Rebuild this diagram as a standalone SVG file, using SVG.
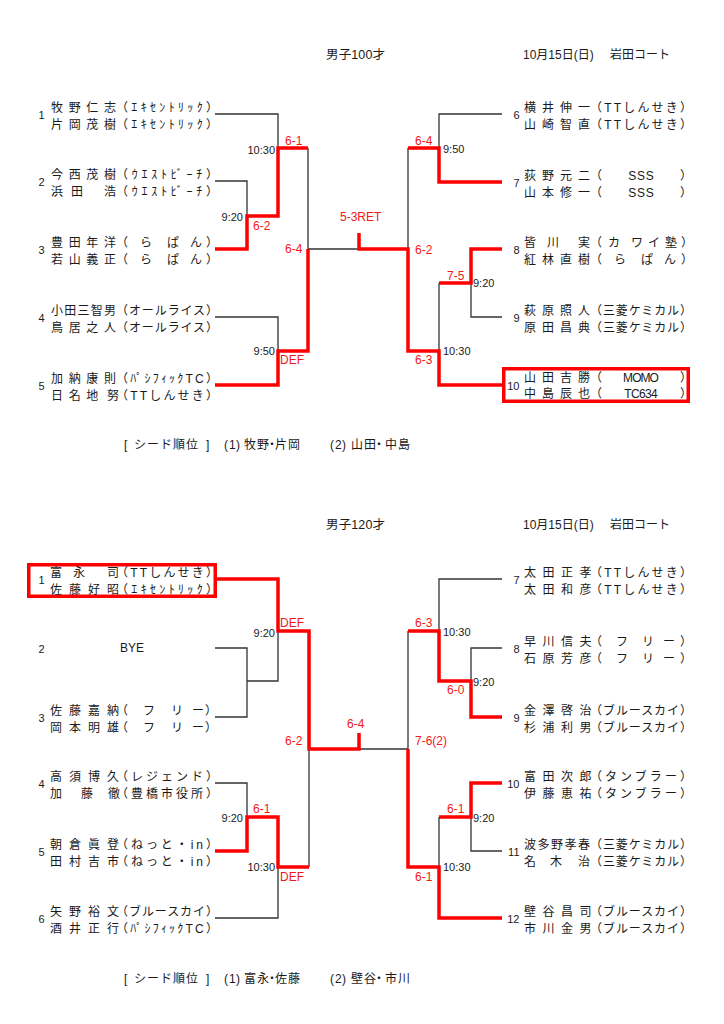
<svg xmlns="http://www.w3.org/2000/svg" width="724" height="1024" viewBox="0 0 724 1024">
<style>
text{font-family:"Liberation Sans","Noto Sans CJK JP",sans-serif;fill:#1a1a1a}
.t{font-size:12px}
.n{font-size:11px;text-anchor:end}
.tl{font-size:11px;text-anchor:end}
.tr{font-size:11px}
.s{font-size:12px;fill:#f01818}
.h{font-size:12.5px}
.k{stroke:#333;stroke-width:1.3;fill:none}
.r{stroke:#f00;stroke-width:3.5;fill:none}
</style>
<rect width="724" height="1024" fill="#fff"/>

<g id="header1">
<text class="h" x="326" y="59" textLength="59" lengthAdjust="spacing">男子100才</text>
<text class="t" y="59"><tspan x="523">10月15日(日)</tspan> <tspan x="610">岩田コート</tspan></text>
</g>

<g id="connectors">
<path class="k" d="M215 114H278V148"/>
<path class="k" d="M215 181H247V216"/>
<path class="k" d="M308 148V249H359"/>
<path class="k" d="M215 317H278V351"/>
<path class="k" d="M502 114H439V148"/>
<path class="k" d="M408 148V249"/>
<path class="k" d="M439 283V351"/>
<path class="k" d="M502 317H471V283"/>
<path class="r" d="M215 249H247V216H278V148H308"/>
<path class="r" d="M215 385H278V351H308V249"/>
<path class="r" d="M359 233V249H408V351H439V385H502"/>
<path class="r" d="M408 148H439V182H502"/>
<path class="r" d="M502 249H471V283H439"/>
<rect class="r" x="503.75" y="368.75" width="184.5" height="32.5"/>

<path class="k" d="M215 648H247V717H215"/>
<path class="k" d="M247 681H278V631"/>
<path class="k" d="M215 783H247V817"/>
<path class="k" d="M309 749V867"/>
<path class="k" d="M215 918H278V867"/>
<path class="k" d="M359 749H408"/>
<path class="k" d="M502 579H439V631"/>
<path class="k" d="M502 648H471V681"/>
<path class="k" d="M408 631V749"/>
<path class="k" d="M439 817V867"/>
<path class="k" d="M502 851H471V817"/>
<path class="r" d="M217 579H278V631H309V749H359V733"/>
<path class="r" d="M215 851H247V817H278V867H309"/>
<path class="r" d="M408 631H439V681H471V717H502"/>
<path class="r" d="M408 749V867H439V918H502"/>
<path class="r" d="M439 817H471V783H502"/>
<rect class="r" x="28.75" y="564.75" width="186.5" height="31.5"/>
</g>

<g id="labels1">
<text class="tl" x="275" y="154">10:30</text>
<text class="s" x="285" y="144.5">6-1</text>
<text class="tl" x="243" y="221">9:20</text>
<text class="s" x="253" y="230">6-2</text>
<text class="s" x="285" y="253">6-4</text>
<text class="tl" x="275" y="355">9:50</text>
<text class="s" x="280" y="364">DEF</text>
<text class="s" x="340" y="221">5-3RET</text>
<text class="s" x="415" y="145">6-4</text>
<text class="tr" x="443" y="153">9:50</text>
<text class="s" x="415" y="254">6-2</text>
<text class="s" x="447" y="280">7-5</text>
<text class="tr" x="473" y="287">9:20</text>
<text class="s" x="415" y="364">6-3</text>
<text class="tr" x="443" y="355">10:30</text>
</g>

<g id="s1-p1">
<text class="n" x="44.5" y="118.5">1</text>
<text class="t" x="51 68.7 86.3 104" y="111.5">牧野仁志</text>
<text class="t" x="116" y="111.5" textLength="102" lengthAdjust="spacing">（ｴｷｾﾝﾄﾘｯｸ）</text>
<text class="t" x="51 68.7 86.3 104" y="128.5">片岡茂樹</text>
<text class="t" x="116" y="128.5" textLength="102" lengthAdjust="spacing">（ｴｷｾﾝﾄﾘｯｸ）</text>
</g>
<g id="s1-p2">
<text class="n" x="44.5" y="185.5">2</text>
<text class="t" x="51 68.7 86.3 104" y="178.5">今西茂樹</text>
<text class="t" x="116" y="178.5" textLength="102" lengthAdjust="spacing">（ｳｴｽﾄﾋﾞｰﾁ）</text>
<text class="t" x="51 71 86 104" y="195.5">浜田　浩</text>
<text class="t" x="116" y="195.5" textLength="102" lengthAdjust="spacing">（ｳｴｽﾄﾋﾞｰﾁ）</text>
</g>
<g id="s1-p3">
<text class="n" x="44.5" y="253.5">3</text>
<text class="t" x="51 68.7 86.3 104" y="246.5">豊田年洋</text>
<text class="t" x="116 140 167 190 206" y="246.5">（らぱん）</text>
<text class="t" x="51 68.7 86.3 104" y="263.5">若山義正</text>
<text class="t" x="116 140 167 190 206" y="263.5">（らぱん）</text>
</g>
<g id="s1-p4">
<text class="n" x="44.5" y="321.5">4</text>
<text class="t" x="51 64.3 77.5 90.8 104" y="314.5">小田三智男</text>
<text class="t" x="116" y="314.5" textLength="102" lengthAdjust="spacing">（オールライス）</text>
<text class="t" x="51 68.7 86.3 104" y="331.5">鳥居之人</text>
<text class="t" x="116" y="331.5" textLength="102" lengthAdjust="spacing">（オールライス）</text>
</g>
<g id="s1-p5">
<text class="n" x="44.5" y="389.5">5</text>
<text class="t" x="51 68.7 86.3 104" y="382.5">加納康則</text>
<text class="t" x="116" y="382.5" textLength="102" lengthAdjust="spacing">（ﾊﾟｼﾌｨｯｸTC）</text>
<text class="t" x="51 68.7 86.3 100 107" y="399.5">日名地　努</text>
<text class="t" x="116" y="399.5" textLength="102" lengthAdjust="spacing">（TTしんせき）</text>
</g>
<g id="s1-p6">
<text class="n" x="519.5" y="118.5">6</text>
<text class="t" x="524 542 560 578" y="111.5">横井伸一</text>
<text class="t" x="590" y="111.5" textLength="102" lengthAdjust="spacing">（TTしんせき）</text>
<text class="t" x="524 542 560 578" y="128.5">山崎智直</text>
<text class="t" x="590" y="128.5" textLength="102" lengthAdjust="spacing">（TTしんせき）</text>
</g>
<g id="s1-p7">
<text class="n" x="519.5" y="186.5">7</text>
<text class="t" x="524 542 560 578" y="179.5">荻野元二</text>
<text class="t" x="590" y="179.5" textLength="102" lengthAdjust="spacing">（　　SSS　　）</text>
<text class="t" x="524 542 560 578" y="196.5">山本修一</text>
<text class="t" x="590" y="196.5" textLength="102" lengthAdjust="spacing">（　　SSS　　）</text>
</g>
<g id="s1-p8">
<text class="n" x="519.5" y="253.5">8</text>
<text class="t" x="524 547 562 578" y="246.5">皆川　実</text>
<text class="t" x="590 608 631 648 665 681" y="246.5">（カワイ塾）</text>
<text class="t" x="524 542 560 578" y="263.5">紅林直樹</text>
<text class="t" x="590 614 641 664 681" y="263.5">（らぱん）</text>
</g>
<g id="s1-p9">
<text class="n" x="519.5" y="321.5">9</text>
<text class="t" x="524 542 560 578" y="314.5">萩原照人</text>
<text class="t" x="590" y="314.5" textLength="102" lengthAdjust="spacing">（三菱ケミカル）</text>
<text class="t" x="524 542 560 578" y="331.5">原田昌典</text>
<text class="t" x="590" y="331.5" textLength="102" lengthAdjust="spacing">（三菱ケミカル）</text>
</g>
<g id="s1-p10">
<text class="n" x="519.5" y="389.5">10</text>
<text class="t" x="524 542 560 578" y="381.5">山田吉勝</text>
<text class="t" x="590" y="381.5" textLength="102" lengthAdjust="spacing">（　　MOMO　　）</text>
<text class="t" x="524 542 560 578" y="398">中島辰也</text>
<text class="t" x="590" y="398" textLength="102" lengthAdjust="spacing">（　　TC634　　）</text>
</g>

<g id="seed1">
<text class="t" x="124" y="449">[</text>
<text class="t" x="134" y="449" textLength="64" lengthAdjust="spacing">シード順位</text>
<text class="t" x="206" y="449">]</text>
<text class="t" x="224 229 236 244 257 266 275 288" y="449">(1)牧野・片岡</text>
<text class="t" x="330 335 342 351 364 373 385 398" y="449">(2)山田・中島</text>
</g>

<g id="header2">
<text class="h" x="326" y="529" textLength="59" lengthAdjust="spacing">男子120才</text>
<text class="t" y="529"><tspan x="523">10月15日(日)</tspan> <tspan x="610">岩田コート</tspan></text>
</g>

<g id="labels2">
<text class="s" x="280" y="627">DEF</text>
<text class="tl" x="275" y="637">9:20</text>
<text class="s" x="285" y="745">6-2</text>
<text class="s" x="253" y="813">6-1</text>
<text class="tl" x="243" y="822">9:20</text>
<text class="tl" x="275" y="871">10:30</text>
<text class="s" x="280" y="881">DEF</text>
<text class="s" x="347" y="728">6-4</text>
<text class="s" x="415" y="627">6-3</text>
<text class="tr" x="443" y="636">10:30</text>
<text class="s" x="447" y="694">6-0</text>
<text class="tr" x="473" y="686">9:20</text>
<text class="s" x="415" y="745">7-6(2)</text>
<text class="s" x="447" y="813">6-1</text>
<text class="tr" x="473" y="822">9:20</text>
<text class="tr" x="443" y="871">10:30</text>
<text class="s" x="415" y="881">6-1</text>
</g>

<g id="s2-p1">
<text class="n" x="44.5" y="583.5">1</text>
<text class="t" x="50 73 90 107" y="576.5">富永　司</text>
<text class="t" x="116" y="576.5" textLength="102" lengthAdjust="spacing">（TTしんせき）</text>
<text class="t" x="50 69 88 107" y="593.5">佐藤好昭</text>
<text class="t" x="116" y="593.5" textLength="102" lengthAdjust="spacing">（ｴｷｾﾝﾄﾘｯｸ）</text>
</g>
<g id="s2-p2">
<text class="n" x="44.5" y="652.5">2</text>
<text class="t" x="120" y="652">BYE</text>
</g>
<g id="s2-p3">
<text class="n" x="44.5" y="721.5">3</text>
<text class="t" x="50 69 88 107" y="714.5">佐藤嘉納</text>
<text class="t" x="116 143 171 192 205" y="714.5">（フリー）</text>
<text class="t" x="50 69 88 107" y="731.5">岡本明雄</text>
<text class="t" x="116 143 171 192 205" y="731.5">（フリー）</text>
</g>
<g id="s2-p4">
<text class="n" x="44.5" y="787.5">4</text>
<text class="t" x="50 69 88 107" y="780.5">高須博久</text>
<text class="t" x="116" y="780.5" textLength="102" lengthAdjust="spacing">（レジェンド）</text>
<text class="t" x="50 81 96 108" y="797.5">加藤　徹</text>
<text class="t" x="116" y="797.5" textLength="102" lengthAdjust="spacing">（豊橋市役所）</text>
</g>
<g id="s2-p5">
<text class="n" x="44.5" y="855.5">5</text>
<text class="t" x="50 69 88 107" y="848.5">朝倉眞登</text>
<text class="t" x="116" y="848.5" textLength="102" lengthAdjust="spacing">（ねっと・in）</text>
<text class="t" x="50 69 88 107" y="865.5">田村吉市</text>
<text class="t" x="116" y="865.5" textLength="102" lengthAdjust="spacing">（ねっと・in）</text>
</g>
<g id="s2-p6">
<text class="n" x="44.5" y="922.5">6</text>
<text class="t" x="50 69 88 107" y="915.5">矢野裕文</text>
<text class="t" x="116" y="915.5" textLength="102" lengthAdjust="spacing">（ブルースカイ）</text>
<text class="t" x="50 69 88 107" y="932.5">酒井正行</text>
<text class="t" x="116" y="932.5" textLength="102" lengthAdjust="spacing">（ﾊﾟｼﾌｨｯｸTC）</text>
</g>
<g id="s2-p7">
<text class="n" x="519.5" y="583.5">7</text>
<text class="t" x="524 542.5 561 579.5" y="576.5">太田正孝</text>
<text class="t" x="590" y="576.5" textLength="102" lengthAdjust="spacing">（TTしんせき）</text>
<text class="t" x="524 542.5 561 579.5" y="593.5">太田和彦</text>
<text class="t" x="590" y="593.5" textLength="102" lengthAdjust="spacing">（TTしんせき）</text>
</g>
<g id="s2-p8">
<text class="n" x="519.5" y="652.5">8</text>
<text class="t" x="524 542.5 561 579.5" y="645.5">早川信夫</text>
<text class="t" x="590 616 642 663 680" y="645.5">（フリー）</text>
<text class="t" x="524 542.5 561 579.5" y="662.5">石原芳彦</text>
<text class="t" x="590 616 642 663 680" y="662.5">（フリー）</text>
</g>
<g id="s2-p9">
<text class="n" x="519.5" y="721.5">9</text>
<text class="t" x="524 542.5 561 579.5" y="714.5">金澤啓治</text>
<text class="t" x="590" y="714.5" textLength="102" lengthAdjust="spacing">（ブルースカイ）</text>
<text class="t" x="524 542.5 561 579.5" y="731.5">杉浦利男</text>
<text class="t" x="590" y="731.5" textLength="102" lengthAdjust="spacing">（ブルースカイ）</text>
</g>
<g id="s2-p10">
<text class="n" x="519.5" y="787.5">10</text>
<text class="t" x="524 542.5 561 579.5" y="780.5">富田次郎</text>
<text class="t" x="590" y="780.5" textLength="102" lengthAdjust="spacing">（タンブラー）</text>
<text class="t" x="524 542.5 561 579.5" y="797.5">伊藤恵祐</text>
<text class="t" x="590" y="797.5" textLength="102" lengthAdjust="spacing">（タンブラー）</text>
</g>
<g id="s2-p11">
<text class="n" x="519.5" y="855.5">11</text>
<text class="t" x="524 537.5 551 564.5 578" y="848.5">波多野孝春</text>
<text class="t" x="590" y="848.5" textLength="102" lengthAdjust="spacing">（三菱ケミカル）</text>
<text class="t" x="524 550 564 578" y="865.5">名木　治</text>
<text class="t" x="590" y="865.5" textLength="102" lengthAdjust="spacing">（三菱ケミカル）</text>
</g>
<g id="s2-p12">
<text class="n" x="519.5" y="922.5">12</text>
<text class="t" x="524 542.5 561 579.5" y="915.5">壁谷昌司</text>
<text class="t" x="590" y="915.5" textLength="102" lengthAdjust="spacing">（ブルースカイ）</text>
<text class="t" x="524 542.5 561 579.5" y="932.5">市川金男</text>
<text class="t" x="590" y="932.5" textLength="102" lengthAdjust="spacing">（ブルースカイ）</text>
</g>

<g id="seed2">
<text class="t" x="124" y="983">[</text>
<text class="t" x="134" y="983" textLength="64" lengthAdjust="spacing">シード順位</text>
<text class="t" x="206" y="983">]</text>
<text class="t" x="224 229 236 244 257 266 275 288" y="983">(1)富永・佐藤</text>
<text class="t" x="330 335 342 351 364 373 385 398" y="983">(2)壁谷・市川</text>
</g>
</svg>
